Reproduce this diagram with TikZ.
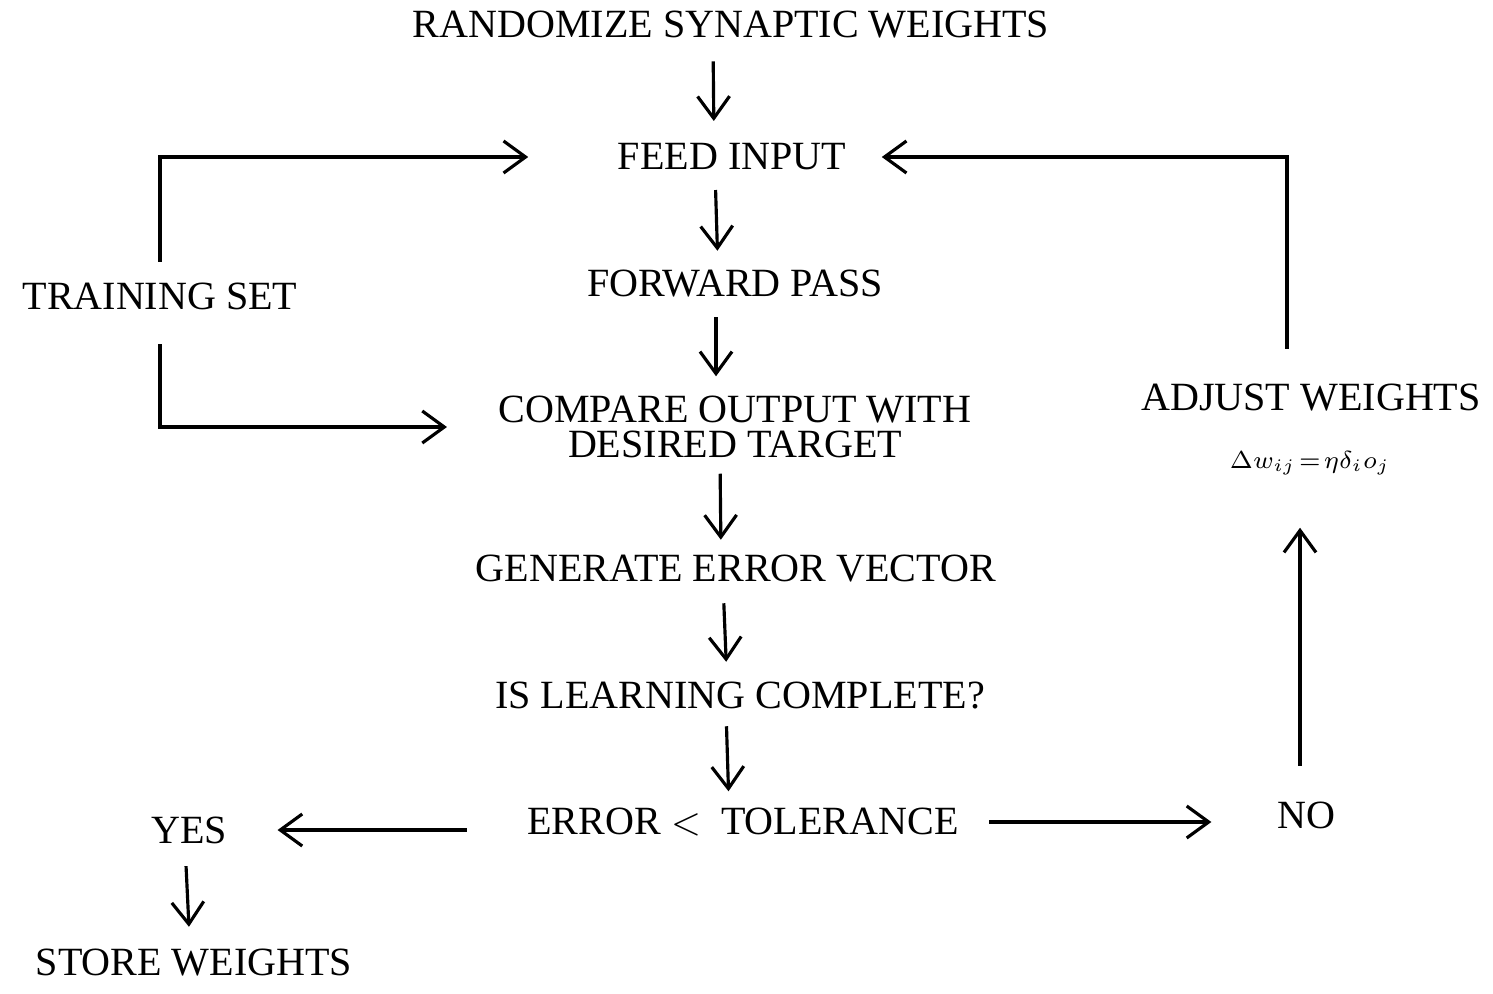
\documentclass[tikz,border=0pt]{standalone}
\usepackage{amsmath}
\usepackage{fontspec}
\setmainfont{Liberation Serif}
\usetikzlibrary{arrows.meta}

\begin{document}
\begin{tikzpicture}[
		stage/.style={inner sep=0pt,font=\fontsize{11.4pt}{10pt}\selectfont,align=center},
		flow/.style={-{Straight Barb[length=2.2mm,width=3.2mm]},line width=0.9pt},
		gap/.style={shorten <=#1,shorten >=#1},
	]
			\useasboundingbox (0,0) rectangle (14.93,-9.93);
			% the main column of steps
			\node[stage] (rand) at (7.31,-0.25) {RANDOMIZE SYNAPTIC WEIGHTS};
			\node[stage] (feed) at (7.32,-1.57) {FEED INPUT};
			\node[stage] (fwd) at (7.35,-2.84) {FORWARD PASS};
			\node[stage] (cmp) at (7.35,-4.27) {COMPARE OUTPUT WITH\\DESIRED TARGET};
			\node[stage] (gen) at (7.36,-5.69) {GENERATE ERROR VECTOR};
			\node[stage] (done) at (7.40,-6.96) {IS LEARNING COMPLETE?};
			\node[stage] (err) at (7.43,-8.22) {ERROR $<$\ \ TOLERANCE};
			% side nodes
			\node[stage] (train) at (1.60,-2.96) {TRAINING SET};
			\node[stage] (yes) at (1.89,-8.30) {YES};
			\node[stage] (store) at (1.94,-9.63) {STORE WEIGHTS};
			\node[stage] (no) at (13.06,-8.15) {NO};
			\node[stage] (adj) at (13.11,-3.98) {ADJUST WEIGHTS};
			\node[inner sep=0pt,font=\scriptsize] (rule) at (13.10,-4.63) {$\Delta w_{ij}\!=\!\eta\delta_i o_j$};
			% downward arrows
			\draw[flow,gap=2.2mm] ([xshift=-1.8mm]rand.south) -- ([xshift=-1.8mm]feed.north);
			\draw[flow,gap=1.9mm] ([xshift=-1.7mm]feed.south) -- ([xshift=-1.7mm]fwd.north);
			\draw[flow,gap=1.9mm] ([xshift=-1.9mm]fwd.south) -- ([xshift=-1.9mm]cmp.north);
			\draw[flow,gap=1.5mm] ([xshift=-1.5mm]cmp.south) -- ([xshift=-1.5mm]gen.north);
			\draw[flow,gap=2.0mm] ([xshift=-1.3mm]gen.south) -- ([xshift=-1.3mm]done.north);
			\draw[flow,gap=1.6mm] ([xshift=-1.4mm]done.south) -- ([xshift=-1.4mm]err.north);
			\draw[flow,gap=2.2mm] ([xshift=-0.4mm]yes.south) -- ([xshift=-0.4mm]store.north);
			% the decision
			\draw[flow,shorten <=6mm,shorten >=5mm] (err.west |- yes) -- (yes.east);
			\draw[flow,shorten <=3mm,shorten >=6.5mm] (err.east) -- (err.east -| no.west);
			\draw[flow,shorten <=3.5mm,shorten >=5.2mm] ([xshift=-0.6mm]no.north) -- ([xshift=-0.6mm]no.north |- rule.south);
			% loop back to the input
			\draw[flow,shorten <=3.5mm,shorten >=3.5mm] ([xshift=-2.4mm]adj.north) |- (feed.east);
			% training set feeds both steps
			\draw[flow,shorten <=2mm,shorten >=8.9mm] (train.north) |- (feed.west);
			\draw[flow,shorten <=3.4mm,shorten >=5.1mm] (train.south) |- (cmp.west);
		\end{tikzpicture}
\end{document}
